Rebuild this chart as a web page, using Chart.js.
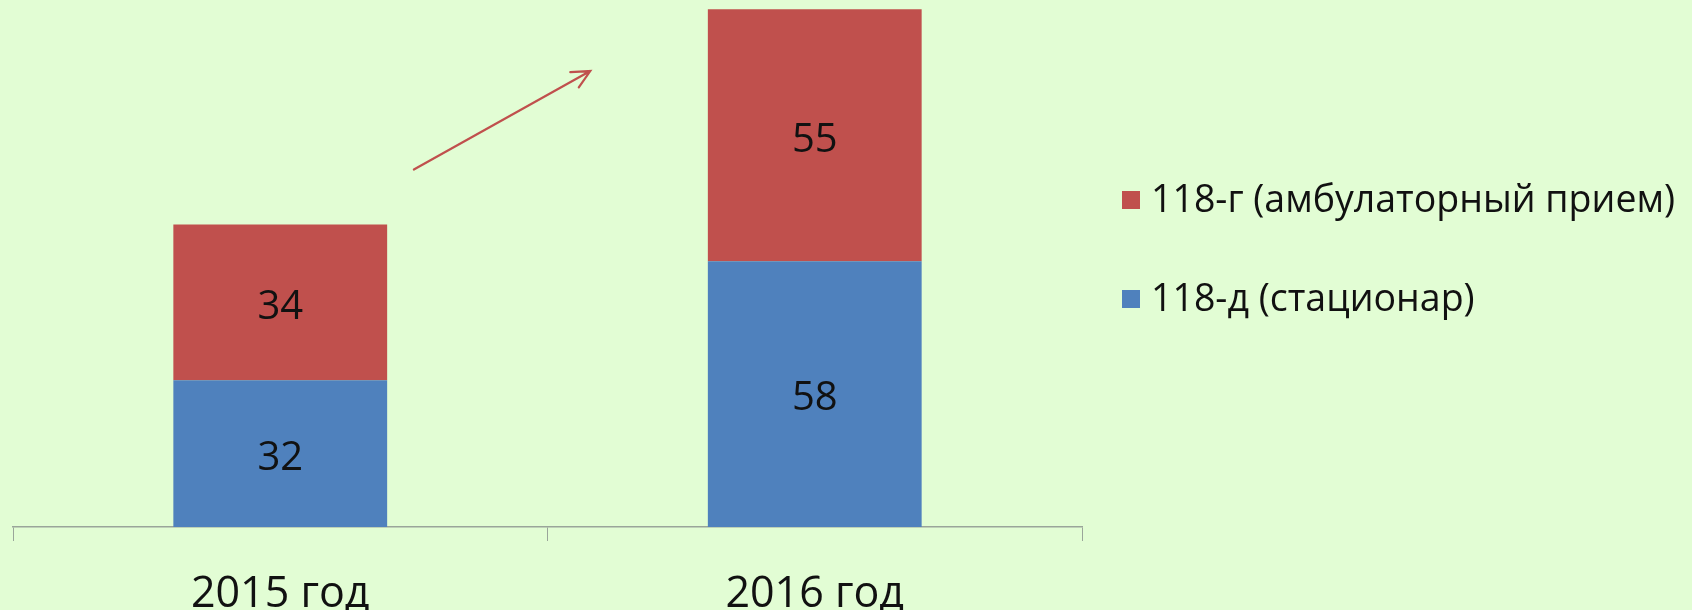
<!DOCTYPE html>
<html>
<head>
<meta charset="utf-8">
<script src="https://cdn.jsdelivr.net/npm/chart.js@4"></script>
<style>
  html, body { margin: 0; padding: 0; background: #e2fdd4; }
  #wrap { width: 1692px; height: 610px; }
</style>
</head>
<body>
<div id="wrap"><canvas id="reportChart" width="1692" height="610"></canvas></div>
<script>
// categories and series
const years = ['2015 год', '2016 год'];
const inpatient = [32, 58];     // 118-д (стационар)
const outpatient = [34, 55];    // 118-г (амбулаторный прием)
const seriesNames = ['118-д (стационар)', '118-г (амбулаторный прием)'];
const seriesColors = ['#4f81bd', '#c0504d'];

// trend arrow, in axis units: [category index, value]
const arrowFrom = [0.25, 78];
const arrowTo = [0.58, 99.5];

const FONT = "'Open Sans', 'Noto Sans', sans-serif";

const background = {
  id: 'background',
  beforeDraw(chart) {
    const ctx = chart.ctx;
    ctx.save();
    ctx.fillStyle = '#e2fdd4';
    ctx.fillRect(0, 0, chart.width, chart.height);
    ctx.restore();
  }
};

// value labels in the middle of each segment
const segmentLabels = {
  id: 'segmentLabels',
  afterDatasetsDraw(chart) {
    const ctx = chart.ctx;
    ctx.save();
    ctx.font = '40px ' + FONT;
    ctx.fillStyle = '#111';
    ctx.textAlign = 'center';
    ctx.textBaseline = 'middle';
    chart.data.datasets.forEach((ds, i) => {
      chart.getDatasetMeta(i).data.forEach((bar, j) => {
        const p = bar.getProps(['x', 'y', 'base'], true);
        ctx.fillText(String(ds.data[j]), p.x, (p.y + p.base) / 2 + 5);
      });
    });
    ctx.restore();
  }
};

const trendArrow = {
  id: 'trendArrow',
  afterDraw(chart) {
    const xs = chart.scales.x, ys = chart.scales.y;
    const x1 = xs.getPixelForValue(arrowFrom[0]), y1 = ys.getPixelForValue(arrowFrom[1]);
    const x2 = xs.getPixelForValue(arrowTo[0]), y2 = ys.getPixelForValue(arrowTo[1]);
    const ang = Math.atan2(y2 - y1, x2 - x1);
    const head = 20;
    const ctx = chart.ctx;
    ctx.save();
    ctx.strokeStyle = '#c0504d';
    ctx.lineWidth = 2.2;
    ctx.lineCap = 'round';
    ctx.beginPath();
    ctx.moveTo(x1, y1);
    ctx.lineTo(x2, y2);
    ctx.moveTo(x2 - head * Math.cos(ang - 0.45), y2 - head * Math.sin(ang - 0.45));
    ctx.lineTo(x2, y2);
    ctx.lineTo(x2 - head * Math.cos(ang + 0.45), y2 - head * Math.sin(ang + 0.45));
    ctx.stroke();
    ctx.restore();
  }
};

// legend on the right, top series first
const sideLegend = {
  id: 'sideLegend',
  afterDraw(chart) {
    const ctx = chart.ctx;
    const left = chart.chartArea.right + 40;
    const rows = chart.data.datasets.slice().reverse();
    ctx.save();
    ctx.font = '37.5px ' + FONT;
    ctx.textBaseline = 'middle';
    rows.forEach((ds, i) => {
      const cy = 200 + i * 99;
      ctx.fillStyle = ds.backgroundColor;
      ctx.fillRect(left, cy - 9, 18, 18);
      ctx.fillStyle = '#111';
      ctx.fillText(ds.label, left + 29, cy + 1);
    });
    ctx.restore();
  }
};

new Chart(document.getElementById('reportChart'), {
  type: 'bar',
  data: {
    labels: years,
    datasets: [
      { label: seriesNames[0], data: inpatient, backgroundColor: seriesColors[0] },
      { label: seriesNames[1], data: outpatient, backgroundColor: seriesColors[1] }
    ]
  },
  options: {
    responsive: false,
    animation: false,
    layout: { padding: { left: 13, right: 610, top: 0, bottom: -38 } },
    datasets: { bar: { categoryPercentage: 1, barPercentage: 0.4 } },
    plugins: { legend: { display: false }, tooltip: { enabled: false } },
    scales: {
      x: {
        stacked: true,
        grid: { display: true, drawOnChartArea: false, tickLength: 14, color: '#9aa59a', lineWidth: 1 },
        border: { display: true, color: '#9aa59a', width: 1.5 },
        ticks: { color: '#111', padding: 32, font: { family: FONT, size: 43, lineHeight: 1 } }
      },
      y: {
        stacked: true,
        display: false,
        min: 0,
        max: 115
      }
    }
  },
  plugins: [background, segmentLabels, trendArrow, sideLegend]
});
</script>
</body>
</html>
